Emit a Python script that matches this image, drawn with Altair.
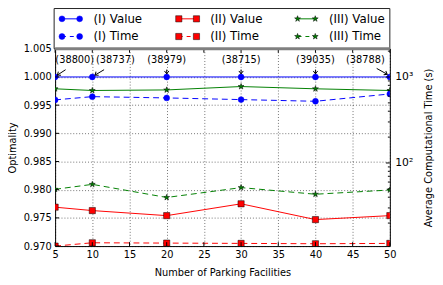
import altair as alt
import pandas as pd

# ---------------- data ----------------
x_vals = [5, 10, 20, 30, 40, 50]
value_I = [1.0, 1.0, 1.0, 1.0, 1.0, 1.0]
value_II = [0.9769, 0.9763, 0.9754, 0.9775, 0.9747, 0.9754]
value_III = [0.9979, 0.9976, 0.9977, 0.9983, 0.9979, 0.9976]
time_I = [542, 591, 571, 546, 522, 635]
time_II = [10.8, 11.8, 11.7, 11.6, 11.5, 11.6]
time_III = [49.4, 56.4, 39.7, 51.7, 43.3, 48.5]
count_labels = ["(38800)", "(38737)", "(38979)", "(38715)", "(39035)", "(38788)"]
label_side = ["right_a", "right_b", "center", "center", "center", "left"]

x_ticks = [5, 10, 15, 20, 25, 30, 35, 40, 45, 50]
left_ticks = [0.970, 0.975, 0.980, 0.985, 0.990, 0.995, 1.000, 1.005]
right_major = [100, 1000]
right_minor = [20, 30, 40, 50, 60, 70, 80, 90, 200, 300, 400, 500, 600, 700, 800, 900, 2000]

legend_labels = ["(I) Value", "(I) Time", "(II) Value", "(II) Time", "(III) Value", "(III) Time"]
legend_keys = ["I", "I", "II", "II", "III", "III"]

# ---------------- styling ----------------
W, H = 341, 201
FONT = "DejaVu Sans"
STAR = ("M0,-1L0.235,-0.324L0.951,-0.309L0.380,0.124L0.588,0.809L0,0.4"
        "L-0.588,0.809L-0.380,0.124L-0.951,-0.309L-0.235,-0.324Z")
ARROW = "M-1,-1.3L0,0L1,-1.3"
BLUE, RED, GREEN = "#0000ff", "#ff0000", "#008000"
DASH = [6, 4]

style = {
    "I": dict(color=BLUE, shape="circle", size=36, edge=BLUE),
    "II": dict(color=RED, shape="square", size=40, edge="black"),
    "III": dict(color=GREEN, shape=STAR, size=40, edge="black"),
}

xscale = alt.Scale(domain=[5, 50], nice=False, zero=False)
lscale = alt.Scale(domain=[0.970, 1.005], nice=False, zero=False)
rscale = alt.Scale(type="log", domain=[10.8, 2130], nice=False)

x_axis = alt.Axis(values=x_ticks, format="d", title="Number of Parking Facilities",
                  grid=True, gridColor="black", gridDash=[1, 2], gridWidth=0.7, gridOpacity=0.8,
                  ticks=False, domain=False, labelPadding=4, labelFlush=False,
                  titlePadding=8)
left_axis = alt.Axis(values=left_ticks, format=".3f", title="Optimality",
                     grid=True, gridColor="black", gridDash=[1, 2], gridWidth=0.7, gridOpacity=0.8,
                     ticks=False, domain=False, labelPadding=4, labelFlush=False,
                     titlePadding=6)
right_axis = alt.Axis(orient="right", values=right_major,
                      labelExpr="datum.value == 100 ? '10²' : '10³'",
                      title="Average Computational Time (s)", grid=False,
                      ticks=False, domain=False, labelPadding=5, labelFlush=False,
                      labelFontSize=11,
                      titleAngle=270, titleX=39, titleY=H / 2, titleAlign="center",
                      titleBaseline="middle")


def xenc():
    return alt.X("x:Q", scale=xscale, axis=x_axis)


def lenc(axis=None):
    return alt.Y("v:Q", scale=lscale, axis=axis)


def renc(axis=None):
    return alt.Y("t:Q", scale=rscale, axis=axis)


layers = []


def series_layers(key, values, dashed, field, yfun, yaxis=None):
    st = style[key]
    df = pd.DataFrame({"x": x_vals, field: values})
    base = alt.Chart(df)
    line_kw = dict(color=st["color"], strokeWidth=1, clip=True)
    if dashed:
        line_kw["strokeDash"] = DASH
    line = base.mark_line(**line_kw).encode(x=xenc(), y=yfun(yaxis))
    pts = base.mark_point(shape=st["shape"], filled=True, fill=st["color"], stroke=st["edge"],
                          strokeWidth=0.5, size=st["size"], opacity=1, clip=True).encode(
        x=xenc(), y=yfun())
    return [line, pts]


# value series (left axis)
layers += series_layers("I", value_I, False, "v", lenc, left_axis)
layers += series_layers("II", value_II, False, "v", lenc)
layers += series_layers("III", value_III, False, "v", lenc)
# time series (right log axis)
layers += series_layers("I", time_I, True, "t", renc, right_axis)
layers += series_layers("II", time_II, True, "t", renc)
layers += series_layers("III", time_III, True, "t", renc)

# inward ticks
xt = alt.Chart(pd.DataFrame({"x": x_ticks}))
layers.append(xt.mark_rule(color="black", strokeWidth=1).encode(
    x=xenc(), y=alt.value(H), y2=alt.value(H - 4)))
layers.append(xt.mark_rule(color="black", strokeWidth=1).encode(
    x=xenc(), y=alt.value(0), y2=alt.value(4)))
lt = alt.Chart(pd.DataFrame({"v": left_ticks}))
layers.append(lt.mark_rule(color="black", strokeWidth=1).encode(
    y=lenc(), x=alt.value(0), x2=alt.value(4)))
rmaj = alt.Chart(pd.DataFrame({"t": right_major}))
layers.append(rmaj.mark_rule(color="black", strokeWidth=1).encode(
    y=renc(), x=alt.value(W), x2=alt.value(W - 4)))
rmin = alt.Chart(pd.DataFrame({"t": right_minor}))
layers.append(rmin.mark_rule(color="black", strokeWidth=1).encode(
    y=renc(), x=alt.value(W), x2=alt.value(W - 2)))

# annotations
ann = alt.Chart(pd.DataFrame({"x": x_vals, "v": value_I, "label": count_labels,
                              "side": label_side}))
sides = {
    "right_a": dict(tdx=20, tail=(10.7, -7.4), head=(2.3, -1.9), angle=54),
    "right_b": dict(tdx=23.5, tail=(12, -7.4), head=(2.8, -1.9), angle=54),
    "center": dict(tdx=0, tail=(0, -7.5), head=(0, -3.2), angle=0),
    "left": dict(tdx=-25, tail=(-13.4, -8.7), head=(-2.7, -2.7), angle=299),
}
for side, p in sides.items():
    sub = ann.transform_filter(alt.datum.side == side)
    layers.append(sub.mark_text(dx=p["tdx"], dy=-17.5, fontSize=10, font=FONT,
                                baseline="middle", align="center", color="black").encode(
        x=xenc(), y=lenc(), text="label:N"))
    layers.append(sub.mark_rule(color="black", strokeWidth=1,
                                xOffset=p["tail"][0], yOffset=p["tail"][1],
                                x2Offset=p["head"][0], y2Offset=p["head"][1]).encode(
        x=xenc(), x2=alt.X2("x"), y=lenc(), y2=alt.Y2("v")))
    layers.append(sub.mark_point(shape=ARROW, filled=False, stroke="black", strokeWidth=1,
                                 size=20, angle=p["angle"], opacity=1,
                                 xOffset=p["head"][0], yOffset=p["head"][1]).encode(
        x=xenc(), y=lenc()))

# ---------------- legend (manual, above the plot) ----------------
one = alt.Chart(pd.DataFrame({"a": [0]}))
layers.append(one.mark_rect(fill="white", stroke="#222222", strokeWidth=1).encode(
    x=alt.value(-1), x2=alt.value(W), y=alt.value(-41), y2=alt.value(0)))
col_x = [7, 126, 247]
row_y = [-30.5, -12.5]
for i, (lab, key) in enumerate(zip(legend_labels, legend_keys)):
    st = style[key]
    cx = col_x[i // 2]
    ry = row_y[i % 2]
    rkw = dict(strokeWidth=1, color=st["color"])
    if i % 2 == 1:
        rkw["strokeDash"] = [4, 4]
    layers.append(one.mark_rule(**rkw).encode(
        x=alt.value(cx), x2=alt.value(cx + 18), y=alt.value(ry)))
    for px in (cx, cx + 18):
        layers.append(one.mark_point(shape=st["shape"], filled=True, fill=st["color"],
                                     stroke=st["edge"], strokeWidth=0.5, size=st["size"],
                                     opacity=1).encode(x=alt.value(px), y=alt.value(ry)))
    layers.append(one.mark_text(align="left", baseline="middle", fontSize=12, font=FONT,
                                color="black").encode(
        x=alt.value(cx + 32), y=alt.value(ry), text=alt.value(lab)))
layers.append(one.mark_rule(color="#808080", strokeWidth=3).encode(
    x=alt.value(0), x2=alt.value(W), y=alt.value(0)))

chart = alt.layer(*layers).resolve_scale(
    y="independent"
).properties(
    width=W, height=H,
    autosize=alt.AutoSizeParams(type="none"),
    padding={"left": 48, "top": 39, "right": 46, "bottom": 31},
).configure_view(
    stroke="black", strokeWidth=1
).configure_axis(
    labelFont=FONT, titleFont=FONT, labelFontSize=10, titleFontSize=10,
    labelColor="black", titleColor="black", titleFontWeight="normal"
)

chart.save("out.html", embed_options={"renderer": "svg", "actions": False})
